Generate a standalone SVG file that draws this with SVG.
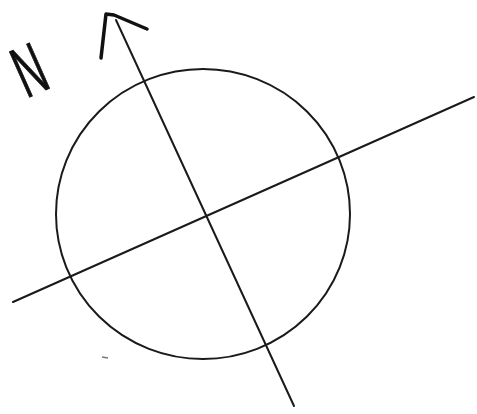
<svg xmlns="http://www.w3.org/2000/svg" width="477" height="414" viewBox="0 0 477 414">
<style>
.ln{fill:none;stroke:#1a1a1a;stroke-width:2;stroke-linecap:round;stroke-linejoin:round}
.arrow{fill:none;stroke:#111;stroke-width:3.5;stroke-linecap:round;stroke-linejoin:round}
.lbl{font-family:"Liberation Sans",Arial,sans-serif;font-size:72px;fill:#111;stroke:#111;stroke-width:1;text-anchor:middle}
</style>
<rect width="477" height="414" fill="#fff"/>
<g id="circle">
<ellipse class="ln" cx="203" cy="214" rx="147" ry="145"/>
</g>
<g id="connectors">
<line class="ln" x1="116" y1="20" x2="294" y2="406"/>
<line class="ln" x1="13" y1="302" x2="474" y2="97"/>
<path class="arrow" d="M101 58 L106 14 L114 15 L147 29"/>
<path d="M102 357 L108 358" stroke="#777" stroke-width="1.5" fill="none"/>
</g>
<g id="north-label">
<text class="lbl" transform="translate(29,69) rotate(-24) scale(0.55,1)" x="0" y="26">N</text>
</g>
</svg>
